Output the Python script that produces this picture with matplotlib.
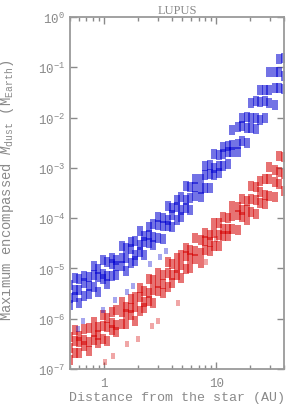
import numpy as np
import matplotlib
matplotlib.use("Agg")
import matplotlib.pyplot as plt
from matplotlib.ticker import LogLocator, FixedLocator, FixedFormatter, NullLocator, NullFormatter

plt.rcParams['font.family'] = ['Liberation Mono', 'DejaVu Sans Mono']
plt.rcParams['mathtext.fontset'] = 'custom'
plt.rcParams['mathtext.rm'] = 'Liberation Mono'
plt.rcParams['mathtext.it'] = 'Liberation Mono:italic'

# radii (AU) of the two staggered sampling grids
r_a = [0.50, 0.60, 0.74, 0.89, 1.07, 1.29, 1.58, 1.91, 2.29, 2.75, 3.39, 4.07,
       4.90, 5.89, 7.24, 8.71, 10.5, 12.6, 15.5, 18.6, 22.4, 26.9, 33.1, 39.8]
r_b = [0.55, 0.66, 0.81, 0.98, 1.17, 1.45, 1.74, 2.09, 2.51, 3.02, 3.72, 4.47,
       5.37, 6.46, 7.94, 9.55, 11.5, 13.8, 17.0, 20.4, 24.5, 29.5, 36.3]

# log10 of max encompassed dust mass (M_Earth)
blue_a = [
    [-5.72, -5.68, -5.50, -5.46, -5.30, -5.13, -5.06, -4.86, -4.73, -4.53, -4.42, -4.17,
     -3.97, -3.83, -3.57, -3.40, -3.10, -2.93, -2.68, -2.51, -2.22, -2.00, -1.74, -1.43],
    [-5.58, -5.42, -5.35, -5.18, -5.15, -4.96, -4.79, -4.73, -4.48, -4.38, -4.16, -3.94,
     -3.84, -3.59, -3.42, -3.13, -2.96, -2.69, -2.52, -2.20, -2.00, -1.68, -1.41, -1.18],
    [-5.33, -5.21, -5.17, -5.02, -4.87, -4.83, -4.60, -4.45, -4.36, -4.11, -3.99, -3.80,
     -3.57, -3.38, -3.23, -2.95, -2.74, -2.56, -2.19, -1.98, -1.68, -1.46, -1.10, -0.82],
]
blue_b = [
    [-5.56, -5.54, -5.37, -5.22, -5.16, -4.96, -4.90, -4.68, -4.50, -4.39, -4.15, -4.04,
     -3.80, -3.56, -3.41, -3.14, -2.96, -2.69, -2.47, -2.21, -2.04, -1.71, -1.42],
    [-5.42, -5.28, -5.13, -5.11, -4.92, -4.80, -4.61, -4.53, -4.33, -4.13, -4.03, -3.78,
     -3.63, -3.38, -3.14, -3.00, -2.73, -2.54, -2.17, -2.00, -1.69, -1.45, -1.09],
    [-5.19, -5.15, -4.96, -4.84, -4.79, -4.55, -4.47, -4.25, -4.17, -3.97, -3.76, -3.64,
     -3.36, -3.22, -2.96, -2.73, -2.59, -2.25, -2.00, -1.71, -1.46, -1.10, -0.83],
]
red_a = [
    [-6.83, -6.68, -6.64, -6.48, -6.44, -6.26, -6.10, -6.04, -5.79, -5.69, -5.48, -5.28,
     -5.20, -5.00, -4.89, -4.66, -4.55, -4.35, -4.24, -4.03, -3.92, -3.72, -3.57, -3.46],
    [-6.58, -6.47, -6.46, -6.32, -6.16, -6.13, -5.91, -5.76, -5.67, -5.42, -5.31, -5.14,
     -4.93, -4.79, -4.70, -4.48, -4.33, -4.22, -3.94, -3.84, -3.63, -3.53, -3.28, -3.12],
    [-6.37, -6.34, -6.19, -6.16, -5.99, -5.83, -5.77, -5.57, -5.44, -5.24, -5.14, -4.91,
     -4.73, -4.64, -4.44, -4.33, -4.09, -3.99, -3.77, -3.65, -3.39, -3.23, -3.04, -2.79],
]
red_b = [
    [-6.68, -6.55, -6.43, -6.41, -6.22, -6.11, -5.92, -5.84, -5.64, -5.44, -5.36, -5.13,
     -5.02, -4.82, -4.63, -4.56, -4.35, -4.22, -3.97, -3.88, -3.69, -3.55, -3.33],
    [-6.45, -6.42, -6.26, -6.14, -6.09, -5.86, -5.78, -5.56, -5.48, -5.28, -5.09, -4.99,
     -4.75, -4.66, -4.45, -4.29, -4.21, -3.95, -3.83, -3.62, -3.49, -3.22, -3.09],
    [-6.22, -6.21, -6.07, -5.92, -5.86, -5.67, -5.61, -5.39, -5.21, -5.10, -4.88, -4.79,
     -4.59, -4.40, -4.30, -4.10, -3.98, -3.75, -3.61, -3.37, -3.26, -2.98, -2.77],
]

# sparse points below the bands
blue_out_r = [0.59, 0.65, 0.98, 1.25, 1.60, 1.81, 2.55, 3.13, 3.60]
blue_out_m = [-6.20, -6.04, -5.83, -5.62, -5.47, -5.35, -4.91, -4.77, -4.65]
red_out_r = [1.02, 1.20, 1.60, 2.00, 2.70, 3.00, 4.60, 8.10, 10.0]
red_out_m = [-6.86, -6.74, -6.50, -6.40, -6.14, -6.04, -5.68, -4.87, -4.41]

blue = '#0000d0'
red = '#d40000'
gray = '#8a8a8a'
dash = [(-0.33, -0.5), (0.33, -0.5), (0.33, 0.5), (-0.33, 0.5)]

fig = plt.figure(figsize=(2.91, 4.14), dpi=100)
ax = fig.add_axes([0.2405, 0.1063, 0.7355, 0.8502])

for tracks, grid, col in [(blue_a, r_a, blue), (blue_b, r_b, blue),
                          (red_a, r_a, red), (red_b, r_b, red)]:
    for t in tracks:
        ax.plot(grid, 10.0 ** np.array(t), linestyle='none', marker=dash,
                markersize=6.8, color=col, alpha=0.55, markeredgewidth=0)

ax.plot(blue_out_r, 10.0 ** np.array(blue_out_m), linestyle='none', marker=dash,
        markersize=4.5, color=blue, alpha=0.35, markeredgewidth=0)
ax.plot(red_out_r, 10.0 ** np.array(red_out_m), linestyle='none', marker=dash,
        markersize=4.5, color=red, alpha=0.35, markeredgewidth=0)

ax.set_xscale('log')
ax.set_yscale('log')
ax.set_xlim(0.5, 40)
ax.set_ylim(1e-7, 1)

ax.xaxis.set_major_locator(FixedLocator([1, 10]))
ax.xaxis.set_major_formatter(FixedFormatter(['1', '10']))
ax.xaxis.set_minor_locator(LogLocator(base=10, subs=np.arange(2, 10)))
ax.xaxis.set_minor_formatter(NullFormatter())
ax.yaxis.set_major_locator(LogLocator(base=10, numticks=10))
ax.yaxis.set_minor_locator(NullLocator())

ax.tick_params(which='both', direction='in', top=True, right=True,
               colors=gray, labelcolor=gray, labelsize=9)
ax.tick_params(which='major', length=5, width=1)
ax.tick_params(which='minor', length=3, width=1)
ax.tick_params(axis='x', pad=6)
for s in ax.spines.values():
    s.set_color('#9a9a9a')
    s.set_linewidth(1.3)

ax.set_xlabel('Distance from the star (AU)', color=gray, fontsize=9.6)
ax.xaxis.set_label_coords(0.5, -0.062)
ax.set_ylabel(r'Maximum encompassed $M_{\rm dust}$ ($\rm M_{Earth}$)',
              color=gray, fontsize=10)
ax.yaxis.set_label_coords(-0.25, 0.51)
ax.set_title('LUPUS', color=gray, fontsize=9, family='Liberation Serif', pad=3)

fig.savefig('out.png', dpi=100)
